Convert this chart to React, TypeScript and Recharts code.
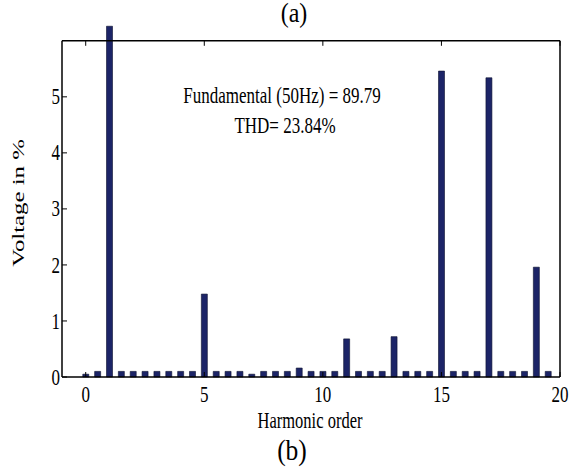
import { BarChart, Bar, XAxis, YAxis, ReferenceLine } from "recharts"

// harmonic spectrum, bars every half order
const orders = [
  0, 0.5, 1, 1.5, 2, 2.5, 3, 3.5, 4, 4.5,
  5, 5.5, 6, 6.5, 7, 7.5, 8, 8.5, 9, 9.5,
  10, 10.5, 11, 11.5, 12, 12.5, 13, 13.5, 14, 14.5,
  15, 15.5, 16, 16.5, 17, 17.5, 18, 18.5, 19, 19.5,
]
const voltage = [
  0.05, 0.1, 6.26, 0.1, 0.1, 0.1, 0.1, 0.1, 0.1, 0.1,
  1.48, 0.1, 0.1, 0.1, 0.05, 0.1, 0.1, 0.1, 0.16, 0.1,
  0.1, 0.1, 0.68, 0.1, 0.1, 0.1, 0.72, 0.1, 0.1, 0.1,
  5.46, 0.1, 0.1, 0.1, 5.34, 0.1, 0.1, 0.1, 1.96, 0.1,
]
const xTicks = [0, 5, 10, 15, 20]
const yTicks = [0, 1, 2, 3, 4, 5]
const rightTicks = [1, 2, 3, 4, 5]

const data = orders.map((order, i) => ({ order, value: voltage[i] }))

const SERIF = "'Liberation Serif', 'Times New Roman', serif"
const TICK_LEN = 5 / 56 // inward tick length in y units
const BOX = { stroke: "#000", strokeWidth: 1.5 }

const XTick = (props: any) => {
  const { x, y, payload } = props
  return (
    <g transform={`translate(${x},${y}) scale(1,1.3)`}>
      <text textAnchor="middle" dy="0.71em" fontSize={17} fontFamily={SERIF} fill="#000">
        {payload.value}
      </text>
    </g>
  )
}

const YTick = (props: any) => {
  const { x, y, payload } = props
  return (
    <g transform={`translate(${x},${y}) scale(1,1.35)`}>
      <text textAnchor="end" dy="0.33em" fontSize={17} fontFamily={SERIF} fill="#000">
        {payload.value}
      </text>
    </g>
  )
}

const Overlay = () => (
  <svg
    width={571}
    height={468}
    style={{ position: "absolute", left: 0, top: 0, pointerEvents: "none" }}
    fontFamily={SERIF}
    fill="#000"
  >
    <g transform="translate(294,21.5) scale(1,1.12)">
      <text textAnchor="middle" fontSize={24}>(a)</text>
    </g>
    <g transform="translate(282,103) scale(1,1.35)">
      <text textAnchor="middle" fontSize={17}>Fundamental (50Hz) = 89.79</text>
    </g>
    <g transform="translate(285,132.5) scale(1,1.35)">
      <text textAnchor="middle" fontSize={17}>THD= 23.84%</text>
    </g>
    <g transform="translate(20,203) rotate(-90) scale(1.55,1)">
      <text textAnchor="middle" dy="0.23em" fontSize={16}>Voltage in %</text>
    </g>
    <g transform="translate(310,428) scale(1,1.45)">
      <text textAnchor="middle" fontSize={16.5}>Harmonic order</text>
    </g>
    <g transform="translate(292,460) scale(1,1.12)">
      <text textAnchor="middle" fontSize={25.5}>(b)</text>
    </g>
  </svg>
)

export default function App() {
  return (
    <div style={{ position: "absolute", left: 0, top: 0, width: 571, height: 468, background: "#fff" }}>
      <BarChart width={571} height={468} data={data} margin={{ top: 24, right: 0, left: 0, bottom: 61 }}>
        <XAxis
          type="number"
          dataKey="order"
          domain={[-1, 20]}
          ticks={xTicks}
          interval={0}
          height={30}
          stroke="#000"
          strokeWidth={1.5}
          tickLine={{ stroke: "#000", strokeWidth: 1 }}
          tickSize={-5}
          tickMargin={14}
          tick={<XTick />}
        />
        <YAxis
          domain={[0, 6.3]}
          ticks={yTicks}
          interval={0}
          width={62}
          axisLine={false}
          tickLine={{ stroke: "#000", strokeWidth: 1 }}
          tickSize={-5}
          tickMargin={7}
          tick={<YTick />}
        />
        <YAxis
          yAxisId="right"
          orientation="right"
          domain={[0, 6.3]}
          ticks={rightTicks}
          interval={0}
          width={11}
          axisLine={false}
          tickLine={{ stroke: "#000", strokeWidth: 1 }}
          tickSize={-5}
          tick={false}
        />
        <ReferenceLine y={6} {...BOX} ifOverflow="visible" />
        <ReferenceLine segment={[{ x: -1, y: 0 }, { x: -1, y: 6 }]} {...BOX} ifOverflow="visible" />
        <ReferenceLine segment={[{ x: 20, y: 0 }, { x: 20, y: 6 }]} {...BOX} ifOverflow="visible" />
        {xTicks.map((t) => (
          <ReferenceLine
            key={t}
            segment={[{ x: t, y: 6 }, { x: t, y: 6 - TICK_LEN }]}
            stroke="#000"
            strokeWidth={1}
            ifOverflow="visible"
          />
        ))}
        <Bar dataKey="value" fill="#1c2467" stroke="#0a0f2e" strokeWidth={0.6} barSize={6} isAnimationActive={false} />
      </BarChart>
      <Overlay />
    </div>
  )
}
